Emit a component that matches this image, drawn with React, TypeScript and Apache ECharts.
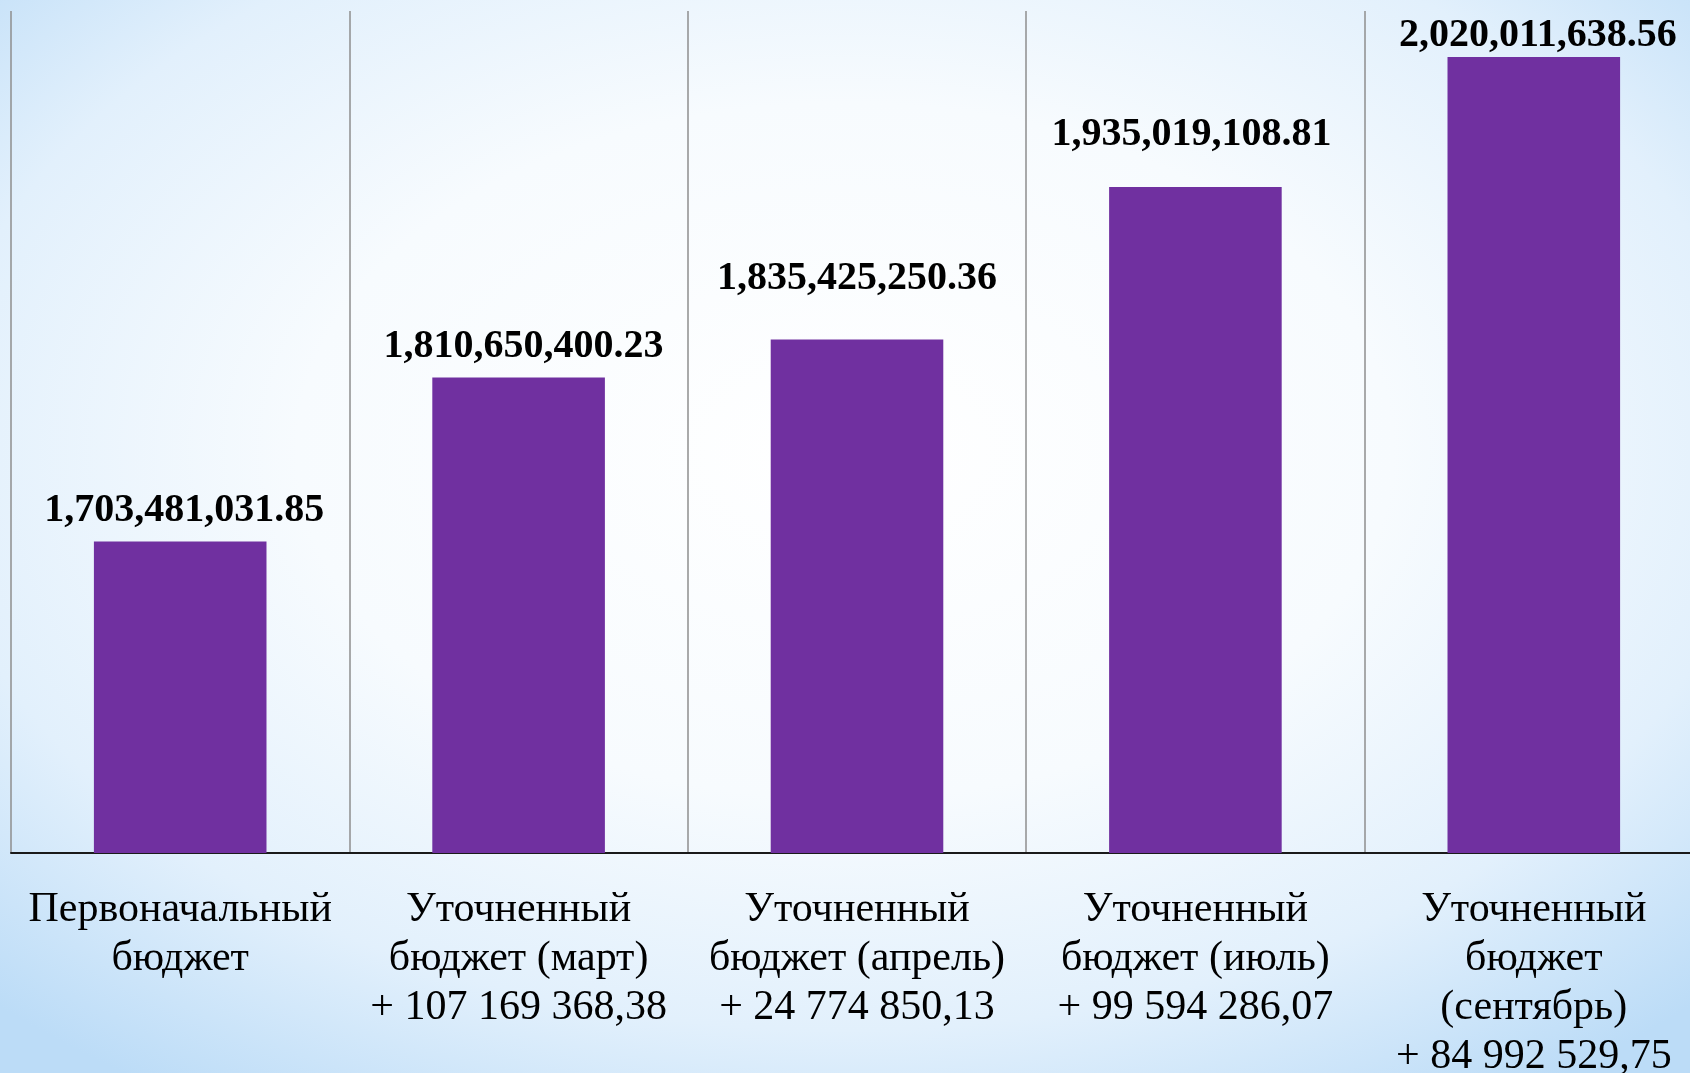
import React, { useEffect, useRef } from "react";
import * as echarts from "echarts";

const categories: string[] = [
  "Первоначальный\nбюджет",
  "Уточненный\nбюджет (март)\n+ 107 169 368,38",
  "Уточненный\nбюджет (апрель)\n+ 24 774 850,13",
  "Уточненный\nбюджет (июль)\n+ 99 594 286,07",
  "Уточненный\nбюджет\n(сентябрь)\n+ 84 992 529,75",
];

const budgetValues: number[] = [
  1703481031.85,
  1810650400.23,
  1835425250.36,
  1935019108.81,
  2020011638.56,
];

const axisMin = 1500000000;
const axisMax = 2050000000;

// manual label nudges seen in the reference (layout only)
const labelOffsets: [number, number][] = [
  [4, -2],
  [5, -2],
  [0, -32],
  [-4, -24],
  [4, 8],
];

function formatValue(v: number): string {
  const fixed = v.toFixed(2);
  const [intPart, dec] = fixed.split(".");
  const withCommas = intPart.replace(/\B(?=(\d{3})+(?!\d))/g, ",");
  return withCommas + "." + dec;
}

export default function App() {
  const ref = useRef<HTMLDivElement>(null);

  useEffect(() => {
    if (!ref.current) return;
    const chart = echarts.init(ref.current, null, { renderer: "svg" });
    chart.setOption({
      animation: false,
      backgroundColor: {
        type: "radial",
        x: 0.5,
        y: 0.42,
        r: 0.72,
        colorStops: [
          { offset: 0, color: "#ffffff" },
          { offset: 0.45, color: "#f7fbfe" },
          { offset: 0.75, color: "#e2f0fc" },
          { offset: 1, color: "#bcdcf7" },
        ],
      },
      grid: {
        left: 11,
        top: 11,
        width: 1692,
        height: 842,
        containLabel: false,
        outerBoundsMode: "none",
      },
      xAxis: {
        type: "category",
        data: categories,
        boundaryGap: true,
        axisLine: { show: true, lineStyle: { color: "#1a1a1a", width: 2 } },
        axisTick: { show: false },
        splitLine: {
          show: true,
          interval: 0,
          lineStyle: { color: "#8e8e8e", width: 1.5 },
        },
        axisLabel: {
          interval: 0,
          hideOverlap: false,
          margin: 29,
          color: "#000000",
          fontFamily: "Liberation Serif",
          fontSize: 42,
          lineHeight: 49,
          align: "center",
        },
      },
      yAxis: {
        type: "value",
        min: axisMin,
        max: axisMax,
        show: false,
        splitLine: { show: false },
      },
      series: [
        {
          type: "bar",
          data: budgetValues.map((v, i) => ({
            value: v,
            label: { offset: labelOffsets[i] },
          })),
          barWidth: "51%",
          itemStyle: { color: "#7030a0" },
          label: {
            show: true,
            position: "top",
            distance: 12,
            color: "#000000",
            fontFamily: "Liberation Serif",
            fontWeight: "bold",
            fontSize: 40,
            formatter: (p: any) => formatValue(p.value as number),
          },
        },
      ],
    });
    return () => chart.dispose();
  }, []);

  return (
    <div
      ref={ref}
      style={{ position: "fixed", left: 0, top: 0, width: 1690, height: 1073 }}
    />
  );
}
